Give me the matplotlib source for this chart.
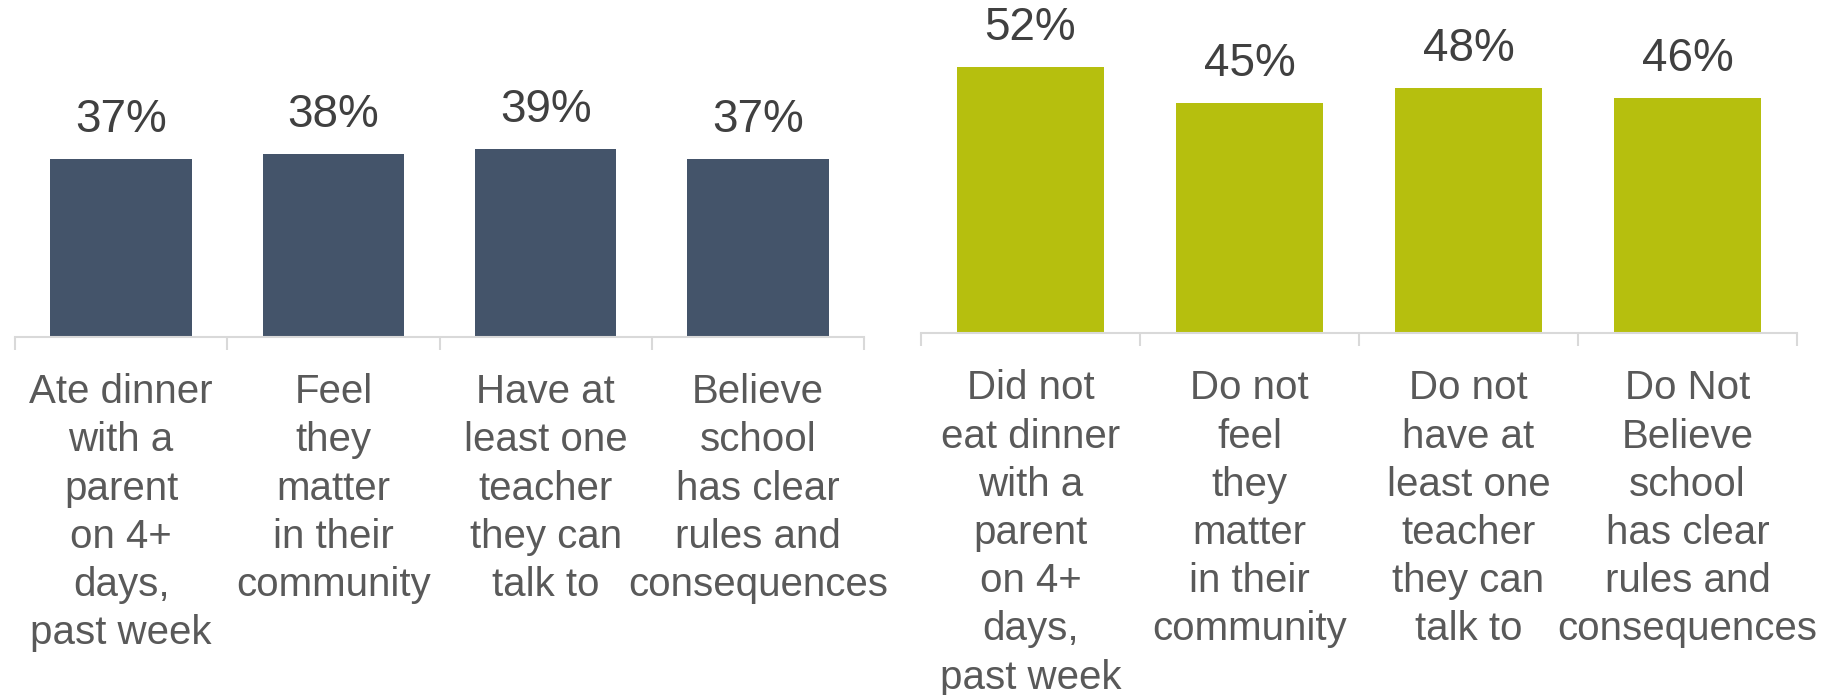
import matplotlib
matplotlib.use("Agg")
import matplotlib.pyplot as plt
import numpy as np

# share of students, by protective factor present / absent
present_labels = ['Ate dinner\nwith a\nparent\non 4+\ndays,\npast week',
                  'Feel\nthey\nmatter\nin their\ncommunity',
                  'Have at\nleast one\nteacher\nthey can\ntalk to',
                  'Believe\nschool\nhas clear\nrules and\nconsequences']
present_values = [37, 38, 39, 37]

absent_labels = ['Did not\neat dinner\nwith a\nparent\non 4+\ndays,\npast week',
                 'Do not\nfeel\nthey\nmatter\nin their\ncommunity',
                 'Do not\nhave at\nleast one\nteacher\nthey can\ntalk to',
                 'Do Not\nBelieve\nschool\nhas clear\nrules and\nconsequences']
absent_values = [52, 45, 48, 46]

plt.rcParams['font.family'] = ['Liberation Sans', 'DejaVu Sans']

axis_grey = '#d9d9d9'
fig = plt.figure(figsize=(18.24, 6.95), dpi=100)
ax1 = fig.add_axes([15 / 1824, 358 / 695, 849 / 1824, 337 / 695])
ax2 = fig.add_axes([921 / 1824, 361.7 / 695, 876 / 1824, 333.3 / 695])


def draw_panel(ax, labels, values, color, ymax):
    x = np.arange(len(values))
    bars = ax.bar(x, values, width=0.667, color=color)
    for b, v in zip(bars, values):
        ax.annotate('{}%'.format(v), (b.get_x() + b.get_width() / 2, v),
                    xytext=(0, 12), textcoords='offset points',
                    ha='center', va='bottom', fontsize=33, color='#404040')
    ax.set_xlim(-0.5, len(values) - 0.5)
    ax.set_ylim(0, ymax)
    for s in ['top', 'right', 'left']:
        ax.spines[s].set_visible(False)
    ax.spines['bottom'].set_color(axis_grey)
    ax.spines['bottom'].set_linewidth(1.5)
    ax.set_yticks([])
    # boundary ticks between categories, labels centred under bars
    ax.set_xticks(np.arange(-0.5, len(values), 1.0))
    ax.set_xticklabels([])
    ax.set_xticks(x, minor=True)
    ax.set_xticklabels(labels, minor=True, fontsize=29, color='#595959',
                       linespacing=1.34, va='top')
    ax.tick_params(axis='x', which='major', length=9.5, width=1.5, color=axis_grey)
    ax.tick_params(axis='x', which='minor', length=0, pad=26)
    ax.patch.set_visible(False)


draw_panel(ax1, present_labels, present_values, '#44546a', 337 / 4.82)
draw_panel(ax2, absent_labels, absent_values, '#b6bf0e', 333.3 / 5.12)

plt.savefig('out.png', dpi=100)
